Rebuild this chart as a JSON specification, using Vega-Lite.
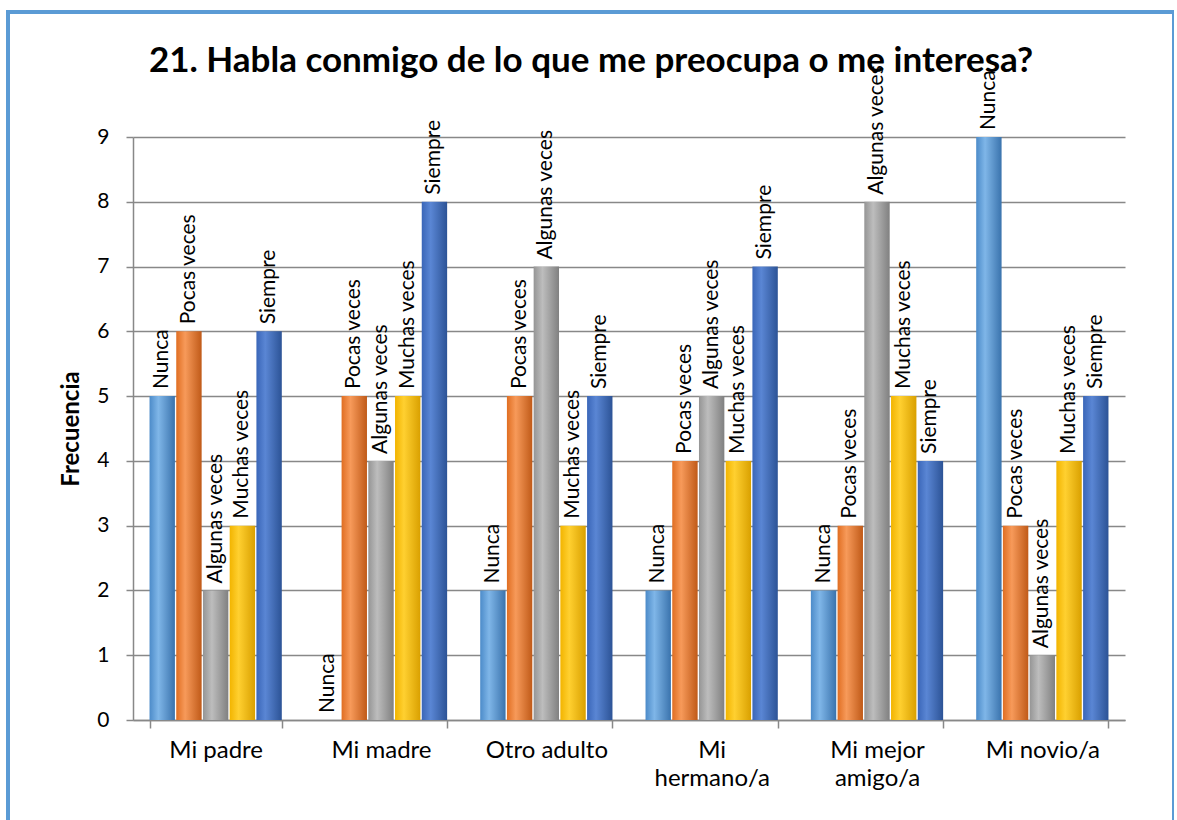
{
  "$schema": "https://vega.github.io/schema/vega-lite/v6.json",
  "width": 1166,
  "height": 812,
  "autosize": {"type": "none"},
  "padding": {"left": 8, "top": 12, "right": 0, "bottom": 0},
  "background": "white",
  "config": {"view": {"stroke": "#5B9BD5", "strokeWidth": 4}, "font": "Lato"},
  "title": {"text": "21. Habla conmigo de lo que me preocupa o me interesa?", "fontSize": 35, "fontWeight": "bold", "color": "black", "anchor": "middle", "offset": -67, "font": "Lato"},
  "data": {"values": [
    {"cat": "Mi padre", "serie": "Nunca", "v": 5},
    {"cat": "Mi padre", "serie": "Pocas veces", "v": 6},
    {"cat": "Mi padre", "serie": "Algunas veces", "v": 2},
    {"cat": "Mi padre", "serie": "Muchas veces", "v": 3},
    {"cat": "Mi padre", "serie": "Siempre", "v": 6},
    {"cat": "Mi madre", "serie": "Nunca", "v": 0},
    {"cat": "Mi madre", "serie": "Pocas veces", "v": 5},
    {"cat": "Mi madre", "serie": "Algunas veces", "v": 4},
    {"cat": "Mi madre", "serie": "Muchas veces", "v": 5},
    {"cat": "Mi madre", "serie": "Siempre", "v": 8},
    {"cat": "Otro adulto", "serie": "Nunca", "v": 2},
    {"cat": "Otro adulto", "serie": "Pocas veces", "v": 5},
    {"cat": "Otro adulto", "serie": "Algunas veces", "v": 7},
    {"cat": "Otro adulto", "serie": "Muchas veces", "v": 3},
    {"cat": "Otro adulto", "serie": "Siempre", "v": 5},
    {"cat": "Mi hermano/a", "serie": "Nunca", "v": 2},
    {"cat": "Mi hermano/a", "serie": "Pocas veces", "v": 4},
    {"cat": "Mi hermano/a", "serie": "Algunas veces", "v": 5},
    {"cat": "Mi hermano/a", "serie": "Muchas veces", "v": 4},
    {"cat": "Mi hermano/a", "serie": "Siempre", "v": 7},
    {"cat": "Mi mejor amigo/a", "serie": "Nunca", "v": 2},
    {"cat": "Mi mejor amigo/a", "serie": "Pocas veces", "v": 3},
    {"cat": "Mi mejor amigo/a", "serie": "Algunas veces", "v": 8},
    {"cat": "Mi mejor amigo/a", "serie": "Muchas veces", "v": 5},
    {"cat": "Mi mejor amigo/a", "serie": "Siempre", "v": 4},
    {"cat": "Mi novio/a", "serie": "Nunca", "v": 9},
    {"cat": "Mi novio/a", "serie": "Pocas veces", "v": 3},
    {"cat": "Mi novio/a", "serie": "Algunas veces", "v": 1},
    {"cat": "Mi novio/a", "serie": "Muchas veces", "v": 4},
    {"cat": "Mi novio/a", "serie": "Siempre", "v": 5}
  ]},
  "encoding": {
    "x": {
      "field": "cat", "type": "nominal",
      "sort": ["Mi padre", "Mi madre", "Otro adulto", "Mi hermano/a", "Mi mejor amigo/a", "Mi novio/a"],
      "scale": {"range": [125, 1117], "paddingInner": 0.2, "paddingOuter": 0.1},
      "axis": {
        "title": null, "offset": -104, "labelAngle": 0, "labelFontSize": 24, "labelColor": "black",
        "labelPadding": 10, "labelLineHeight": 28, "labelBaseline": "top",
        "labelExpr": "datum.label == 'Mi hermano/a' ? ['Mi', 'hermano/a'] : datum.label == 'Mi mejor amigo/a' ? ['Mi mejor', 'amigo/a'] : datum.label",
        "tickBand": "extent", "tickSize": 8, "tickColor": "#888888", "tickWidth": 1.5,
        "domainColor": "#888888", "domainWidth": 1.5, "grid": false
      }
    },
    "xOffset": {
      "field": "serie", "type": "nominal",
      "sort": ["Nunca", "Pocas veces", "Algunas veces", "Muchas veces", "Siempre"],
      "scale": {"paddingInner": 0.05}
    },
    "y": {
      "field": "v", "type": "quantitative",
      "scale": {"domain": [0, 9], "range": [708, 125], "nice": false},
      "axis": {
        "title": "Frecuencia", "titleFontSize": 24, "titleFontWeight": "bold", "titleColor": "black", "titlePadding": 13,
        "offset": -125, "values": [0, 1, 2, 3, 4, 5, 6, 7, 8, 9], "format": "d",
        "labelFontSize": 21, "labelColor": "black", "labelPadding": 17,
        "tickSize": 7, "tickColor": "#888888", "tickWidth": 1.5,
        "domainColor": "#888888", "domainWidth": 1.5,
        "grid": true, "gridColor": "#888888", "gridWidth": 1.5
      }
    }
  },
  "layer": [
    {"transform": [{"filter": "datum.serie == 'Nunca'"}],
     "mark": {"type": "bar", "color": {"gradient": "linear", "x1": 0, "x2": 1, "y1": 0, "y2": 0, "stops": [{"offset": 0, "color": "#4c8bc9"}, {"offset": 0.35, "color": "#7fb6e8"}, {"offset": 1, "color": "#3a73ad"}]}}},
    {"transform": [{"filter": "datum.serie == 'Pocas veces'"}],
     "mark": {"type": "bar", "color": {"gradient": "linear", "x1": 0, "x2": 1, "y1": 0, "y2": 0, "stops": [{"offset": 0, "color": "#e06e22"}, {"offset": 0.35, "color": "#f79a5a"}, {"offset": 1, "color": "#c05a18"}]}}},
    {"transform": [{"filter": "datum.serie == 'Algunas veces'"}],
     "mark": {"type": "bar", "color": {"gradient": "linear", "x1": 0, "x2": 1, "y1": 0, "y2": 0, "stops": [{"offset": 0, "color": "#959595"}, {"offset": 0.35, "color": "#bdbdbd"}, {"offset": 1, "color": "#808080"}]}}},
    {"transform": [{"filter": "datum.serie == 'Muchas veces'"}],
     "mark": {"type": "bar", "color": {"gradient": "linear", "x1": 0, "x2": 1, "y1": 0, "y2": 0, "stops": [{"offset": 0, "color": "#f2b400"}, {"offset": 0.35, "color": "#ffd030"}, {"offset": 1, "color": "#d9a000"}]}}},
    {"transform": [{"filter": "datum.serie == 'Siempre'"}],
     "mark": {"type": "bar", "color": {"gradient": "linear", "x1": 0, "x2": 1, "y1": 0, "y2": 0, "stops": [{"offset": 0, "color": "#3a66b8"}, {"offset": 0.35, "color": "#5a86d4"}, {"offset": 1, "color": "#2c5396"}]}}},
    {"mark": {"type": "text", "angle": 270, "align": "left", "baseline": "middle", "dx": 7, "fontSize": 21, "color": "black"},
     "encoding": {"text": {"field": "serie"}}}
  ]
}
